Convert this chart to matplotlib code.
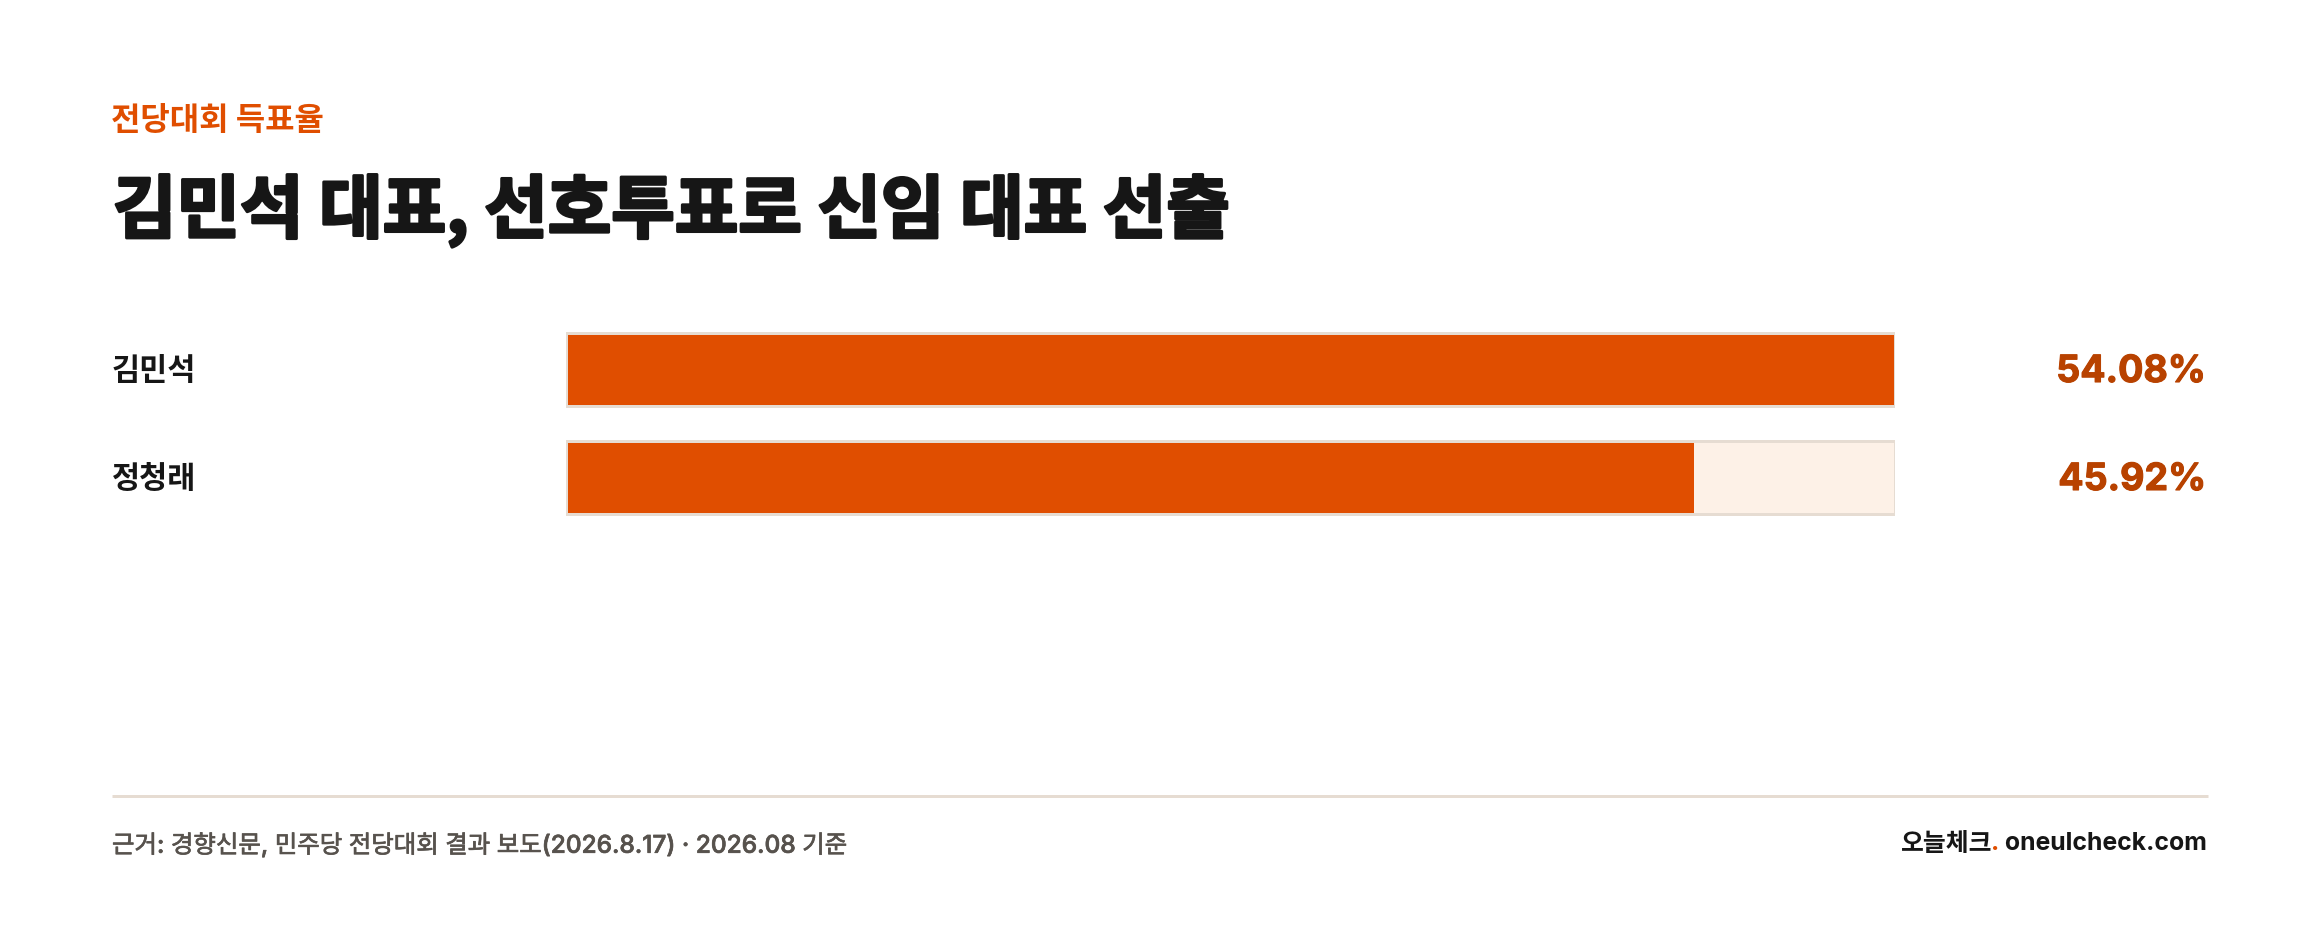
import matplotlib
matplotlib.use("Agg")
import matplotlib.pyplot as plt
import matplotlib.patheffects as pe
from matplotlib.transforms import blended_transform_factory

plt.rcParams['font.family'] = ['Inter', 'Noto Sans CJK KR', 'DejaVu Sans']

# ---- data ----
kicker = "전당대회 득표율"
title = "김민석 대표, 선호투표로 신임 대표 선출"
candidates = ["김민석", "정청래"]
shares = [54.08, 45.92]
source = "근거: 경향신문, 민주당 전당대회 결과 보도(2026.8.17) · 2026.08 기준"
brand_kr = "오늘체크"
brand_dot = "."
brand_en = " oneulcheck.com"

# ---- style ----
ORANGE = "#E04E00"
VALUE_C = "#B84200"
TRACK = "#FDF1E7"
BORDER = "#E6DCD2"
INK = "#161616"
GREY = "#57524D"

W, H = 2320, 940
DPI = 100
fig = plt.figure(figsize=(W / DPI, H / DPI), dpi=DPI, facecolor="white")

def fx(px):
    return px / W

def fy(py):
    return 1 - py / H

KR = ['Noto Sans CJK KR', 'DejaVu Sans']
LAT = ['Inter', 'Noto Sans CJK KR', 'DejaVu Sans']

fig.text(fx(111), fy(121), kicker, family=KR, fontsize=23, weight='bold',
         color=ORANGE, ha='left', va='center')
fig.text(fx(113), fy(211), title, family=KR, fontsize=49.7, weight='black',
         color=INK, ha='left', va='center',
         path_effects=[pe.withStroke(linewidth=2.2, foreground=INK)])

# ---- bars ----
left_px, right_px = 565.5, 1894.5
top_px, bot_px = 300, 540
ax = fig.add_axes([fx(left_px), fy(bot_px), fx(right_px - left_px), (bot_px - top_px) / H])
ax.set_axis_off()
n = len(candidates)
ypos = list(range(n))
vmax = max(shares)
ax.set_xlim(0, vmax)
row = 108.0
c0 = 369.0
ax.set_ylim((bot_px - c0) / row, (top_px - c0) / row)
bh = 73.0 / row

ax.barh(ypos, [vmax] * n, height=bh, color=TRACK, linewidth=0, zorder=1)
ax.barh(ypos, shares, height=bh, color=ORANGE, linewidth=0, zorder=2)
ax.barh(ypos, [vmax] * n, height=bh, fill=False, edgecolor=BORDER,
        linewidth=3 * 72 / DPI, zorder=3)

tr = blended_transform_factory(fig.transFigure, ax.transData)
for i, (name, v) in enumerate(zip(candidates, shares)):
    ax.text(fx(112), i + 1.5 / row, name, transform=tr, family=KR, fontsize=22,
            weight='bold', color=INK, ha='left', va='center')
    ax.text(fx(2206), i + 3.0 / row, f"{v:.2f}%", transform=tr, family=LAT,
            fontsize=27, weight='bold', color=VALUE_C, ha='right', va='center',
            path_effects=[pe.withStroke(linewidth=0.8, foreground=VALUE_C)])

# ---- footer ----
line_ax = fig.add_axes([0, 0, 1, 1], facecolor='none')
line_ax.set_axis_off()
line_ax.set_xlim(0, W)
line_ax.set_ylim(H, 0)
line_ax.plot([112, 2208], [795.5, 795.5], color=BORDER, linewidth=3 * 72 / DPI,
             solid_capstyle='butt')

fig.text(fx(112), fy(845), source, family=LAT, fontsize=17.6, weight='medium',
         color=GREY, ha='left', va='center',
         path_effects=[pe.withStroke(linewidth=0.5, foreground=GREY)])

fig.canvas.draw()
r = fig.canvas.get_renderer()
t_en = fig.text(fx(2207), fy(844), brand_en, family=LAT, fontsize=17.9, weight='bold',
                color=INK, ha='right', va='center')
bb = t_en.get_window_extent(r)
t_dot = fig.text(bb.x0 / W, fy(844), brand_dot, family=LAT, fontsize=17.9, weight='bold',
                 color=ORANGE, ha='right', va='center', zorder=5)
bb2 = t_dot.get_window_extent(r)
fig.text((bb2.x0 + 1.5) / W, fy(844), brand_kr, family=KR, fontsize=17.9, weight='bold',
         color=INK, ha='right', va='center', zorder=4)

fig.savefig("out.png", dpi=DPI, facecolor="white")
